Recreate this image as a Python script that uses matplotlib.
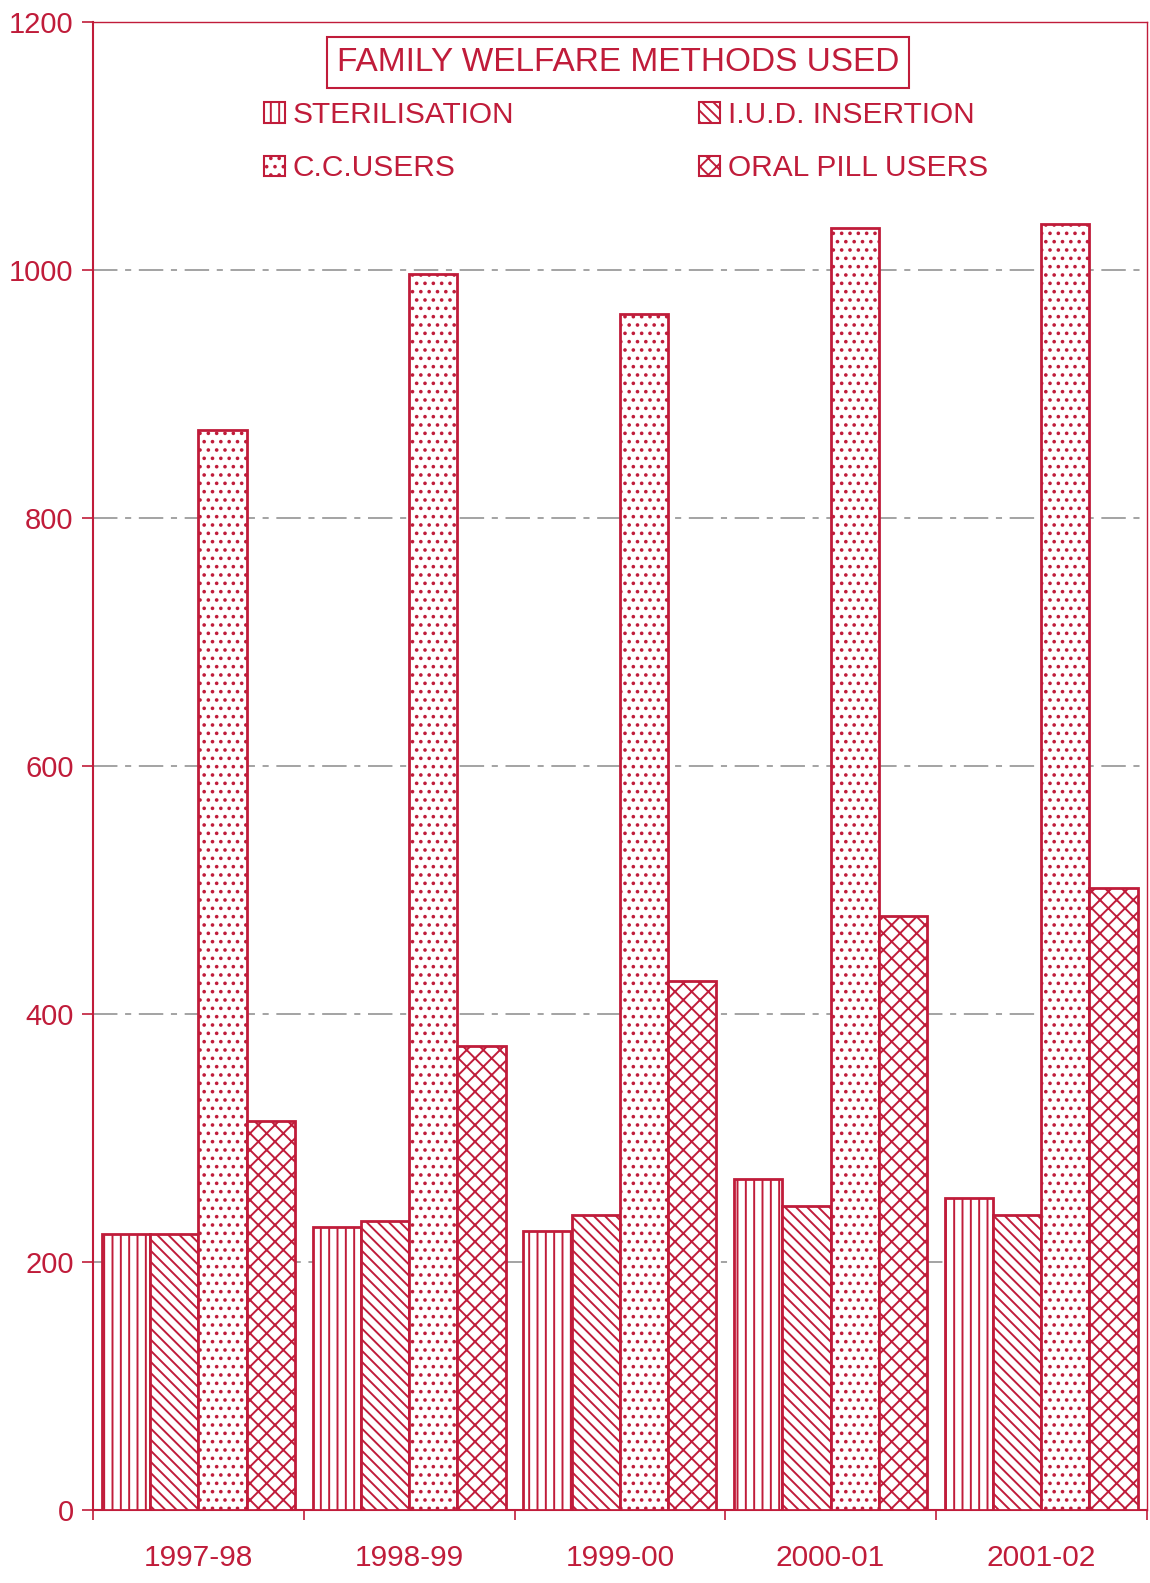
import numpy as np
import matplotlib.pyplot as plt
from matplotlib.patches import Patch

plt.rcParams['font.family'] = ['Liberation Sans', 'DejaVu Sans']
plt.rcParams['hatch.linewidth'] = 1.4

# datos
years = ["1997-98", "1998-99", "1999-00", "2000-01", "2001-02"]
sterilisation = [223, 228, 225, 267, 252]
iud = [223, 233, 238, 245, 238]
cc_users = [871, 997, 965, 1034, 1037]
oral_pill = [314, 374, 427, 479, 502]

red = "#c01c3a"
x = np.arange(len(years))
w = 0.229

fig = plt.figure(figsize=(11.5, 15.83), dpi=100)
ax = fig.add_axes([0.081, 0.046, 0.916, 0.940])

series = [sterilisation, iud, cc_users, oral_pill]
hatches = ['||', '\\\\\\', '..', 'xx']
for i, (vals, h) in enumerate(zip(series, hatches)):
    ax.bar(x + (i - 1.5) * w, vals, w, facecolor='white', edgecolor=red,
           hatch=h, linewidth=2, zorder=3)

ax.set_xlim(-0.5, len(years) - 0.5)
ax.set_ylim(0, 1200)
ax.set_yticks(np.arange(0, 1201, 200))
ax.set_xticks(x)
ax.set_xticklabels(years)
ax.set_xticks(np.arange(-0.5, len(years)), minor=True)
ax.tick_params(axis='x', which='major', length=0, pad=24, labelsize=21.5, labelcolor=red)
ax.tick_params(axis='x', which='minor', length=7, color=red, width=1.2)
ax.tick_params(axis='y', length=8, color=red, width=1.2, labelsize=21, labelcolor=red, pad=6)
ax.yaxis.grid(True, color='#8a8a8a', linestyle=(0, (16, 5, 4, 5)), linewidth=1.1, zorder=0)
for s in ax.spines.values():
    s.set_color(red)
ax.spines['left'].set_linewidth(1.5)
ax.spines['bottom'].set_linewidth(1.5)
ax.spines['top'].set_linewidth(1)
ax.spines['right'].set_linewidth(1)

ax.text(0.4985, 0.973, "FAMILY WELFARE METHODS USED", transform=ax.transAxes,
        ha='center', va='center', fontsize=24, color=red, zorder=5,
        bbox=dict(boxstyle='square,pad=0.3', facecolor='white', edgecolor=red, linewidth=1.5))

labels = ["STERILISATION", "C.C.USERS", "I.U.D. INSERTION", "ORAL PILL USERS"]
order = [0, 2, 1, 3]
handles = [Patch(facecolor='white', edgecolor=red, hatch=hatches[k], linewidth=1.5)
           for k in order]
leg = ax.legend(handles, labels, ncol=2, loc='upper left', bbox_to_anchor=(0.137, 0.965),
                frameon=False, fontsize=21.5, handlelength=0.7, handleheight=0.7,
                handletextpad=0.25, columnspacing=6.2, labelspacing=0.85)
for t in leg.get_texts():
    t.set_color(red)

fig.savefig("out.png", dpi=100, facecolor='white')
